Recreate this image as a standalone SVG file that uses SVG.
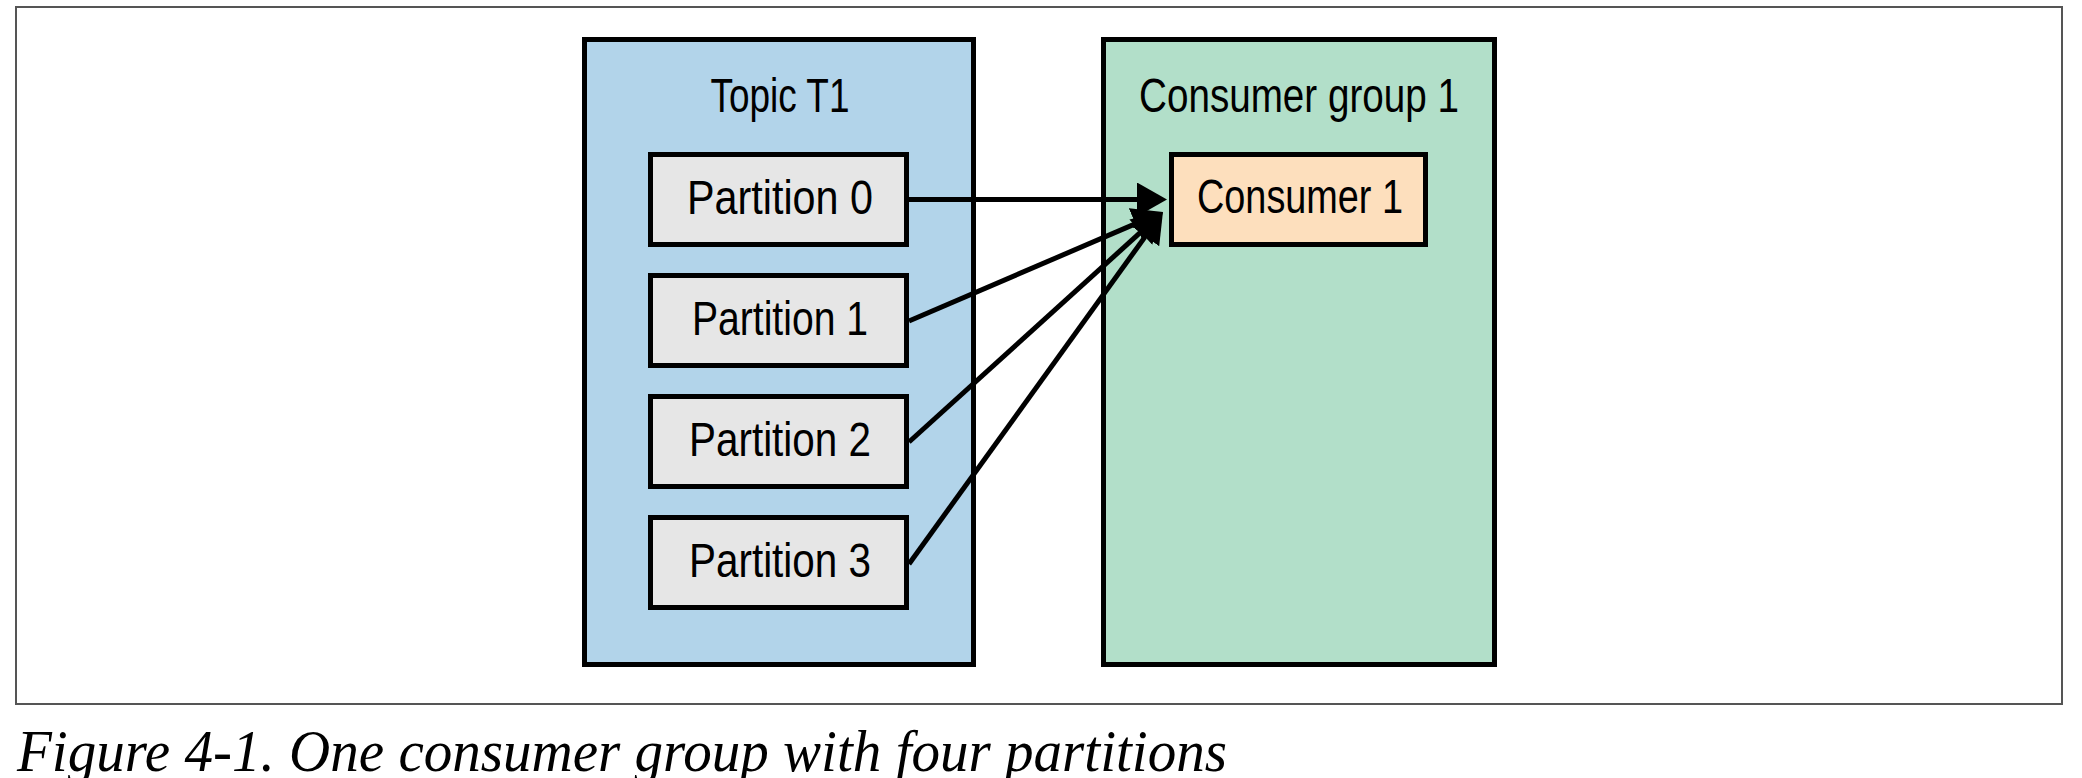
<svg xmlns="http://www.w3.org/2000/svg" width="2082" height="778" viewBox="0 0 2082 778">
  <style>
    .title { font-family: "Liberation Sans", Arial, sans-serif; font-size: 48px; fill: #000; text-anchor: middle; }
    .box { stroke: #000; stroke-width: 5; }
    .conn { stroke: #000; stroke-width: 5; fill: none; marker-end: url(#arrow); }
    .caption { font-family: "Liberation Serif", "Times New Roman", serif; font-style: italic; font-size: 60px; fill: #000; }
  </style>
  <defs>
    <marker id="arrow" markerUnits="userSpaceOnUse" markerWidth="32" markerHeight="36" refX="20" refY="17" orient="auto" viewBox="0 0 32 36">
      <path d="M0,0 L30,17 L0,34 z" fill="#000"/>
    </marker>
  </defs>
  <rect width="2082" height="778" fill="#fff"/>
  <rect id="frame" x="16" y="7" width="2046" height="697" fill="#fff" stroke="#555" stroke-width="2"/>

  <g id="topic-t1">
    <rect class="box" x="584.5" y="39.5" width="389" height="625" fill="#b2d4ea"/>
    <text class="title" x="780" y="112" textLength="139" lengthAdjust="spacingAndGlyphs">Topic T1</text>
  </g>

  <g id="partition-0">
    <rect class="box" x="650.5" y="154.5" width="256" height="90" fill="#e6e6e6"/>
    <text class="title" x="780" y="214" textLength="186" lengthAdjust="spacingAndGlyphs">Partition 0</text>
  </g>
  <g id="partition-1">
    <rect class="box" x="650.5" y="275.5" width="256" height="90" fill="#e6e6e6"/>
    <text class="title" x="780" y="335" textLength="176" lengthAdjust="spacingAndGlyphs">Partition 1</text>
  </g>
  <g id="partition-2">
    <rect class="box" x="650.5" y="396.5" width="256" height="90" fill="#e6e6e6"/>
    <text class="title" x="780" y="456" textLength="182" lengthAdjust="spacingAndGlyphs">Partition 2</text>
  </g>
  <g id="partition-3">
    <rect class="box" x="650.5" y="517.5" width="256" height="90" fill="#e6e6e6"/>
    <text class="title" x="780" y="577" textLength="182" lengthAdjust="spacingAndGlyphs">Partition 3</text>
  </g>

  <g id="consumer-group-1">
    <rect class="box" x="1103.5" y="39.5" width="391" height="625" fill="#b2dfc9"/>
    <text class="title" x="1299" y="112" textLength="320" lengthAdjust="spacingAndGlyphs">Consumer group 1</text>
  </g>

  <g id="consumer-1">
    <rect class="box" x="1171.5" y="154.5" width="254" height="90" fill="#fddfbd"/>
    <text class="title" x="1300" y="213" textLength="206" lengthAdjust="spacingAndGlyphs">Consumer 1</text>
  </g>

  <g id="connectors">
    <line class="conn" x1="909" y1="199.5" x2="1157" y2="199.5"/>
    <line class="conn" x1="909" y1="321" x2="1153.8" y2="215.9"/>
    <line class="conn" x1="909" y1="442" x2="1155.6" y2="218.7"/>
    <line class="conn" x1="909" y1="564" x2="1157.1" y2="220.1"/>
  </g>

  <text class="caption" x="17" y="771" textLength="1210" lengthAdjust="spacingAndGlyphs">Figure 4-1. One consumer group with four partitions</text>
</svg>
